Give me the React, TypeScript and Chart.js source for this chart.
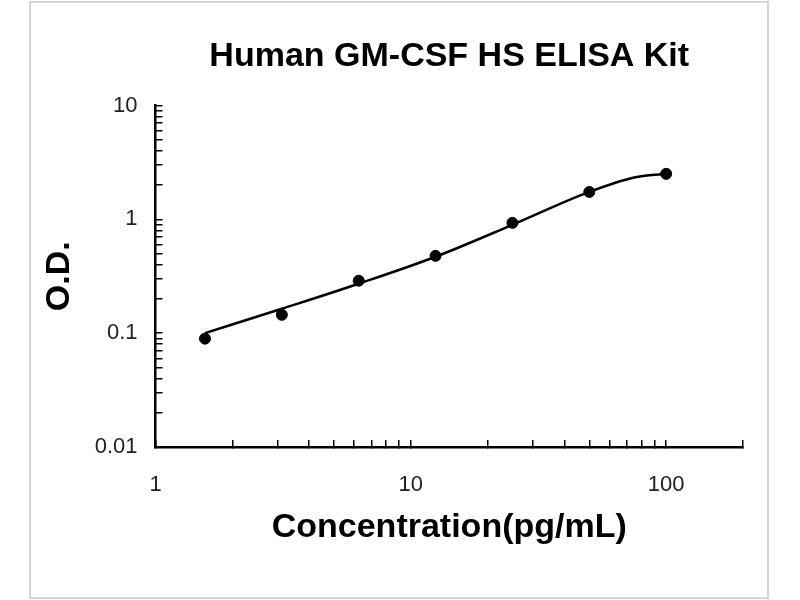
import React, { useEffect, useRef } from 'react';
import { Chart, registerables } from 'chart.js';

Chart.register(...registerables);

// Measured standard points
const concentrations = [1.5625, 3.125, 6.25, 12.5, 25, 50, 100];
const odValues = [0.0895, 0.145, 0.289, 0.478, 0.932, 1.74, 2.51];

// Points
const fitConcentrations = [1.5625, 3.125, 6.25, 12.5, 25, 50, 75, 100];
const fitOdValues = [0.1, 0.164, 0.272, 0.469, 0.895, 1.74, 2.33, 2.51];

// Axis ticks
const xTickValues = [1, 2, 3, 4, 5, 6, 7, 8, 9, 10, 20, 30, 40, 50, 60, 70, 80, 90, 100, 200];
const xTickLabels = [1, 10, 100];
const yTickValues = [
  0.01, 0.02, 0.03, 0.04, 0.05, 0.06, 0.07, 0.08, 0.09,
  0.1, 0.2, 0.3, 0.4, 0.5, 0.6, 0.7, 0.8, 0.9,
  1, 2, 3, 4, 5, 6, 7, 8, 9, 10,
];
const yTickLabels = [0.01, 0.1, 1, 10];

const chartTitle = 'Human GM-CSF HS ELISA Kit';
const xTitle = 'Concentration(pg/mL)';
const yTitle = 'O.D.';

const FONT = '"Liberation Sans", Arial, sans-serif';

const framePlugin = {
  id: 'frame',
  beforeDraw(chart: any) {
    const ctx = chart.ctx;
    ctx.save();
    ctx.fillStyle = '#ffffff';
    ctx.fillRect(0, 0, chart.width, chart.height);
    ctx.strokeStyle = '#d4d4d4';
    ctx.lineWidth = 2;
    ctx.strokeRect(30, 2, 738, 596);
    ctx.restore();
  },
};

export default function App() {
  const canvasRef = useRef<HTMLCanvasElement | null>(null);

  useEffect(() => {
    if (!canvasRef.current) return;
    const chart = new Chart(canvasRef.current, {
      type: 'scatter',
      data: {
        datasets: [
          {
            label: 'Fit',
            data: fitConcentrations.map((x, i) => ({ x, y: fitOdValues[i] })),
            showLine: true,
            borderColor: '#000',
            borderWidth: 2.5,
            pointRadius: 0,
            cubicInterpolationMode: 'monotone',
            fill: false,
            order: 2,
          } as any,
          {
            label: 'Standard',
            data: concentrations.map((x, i) => ({ x, y: odValues[i] })),
            showLine: false,
            backgroundColor: '#000',
            borderColor: '#000',
            pointRadius: 5.5,
            pointHoverRadius: 5.5,
            order: 1,
          } as any,
        ],
      },
      options: {
        responsive: false,
        animation: false,
        devicePixelRatio: 1,
        layout: { padding: { left: 0, right: 57, top: 0, bottom: 0 } },
        plugins: {
          legend: { display: false },
          tooltip: { enabled: false },
          title: {
            display: true,
            text: chartTitle,
            fullSize: false,
            color: '#000',
            font: { family: FONT, size: 34, weight: 'bold', lineHeight: 1.2 },
            padding: { top: 36, bottom: 28.7 },
          },
        },
        scales: {
          x: {
            type: 'logarithmic',
            position: 'bottom',
            min: 1,
            max: 200,
            afterBuildTicks: (scale: any) => {
              scale.ticks = xTickValues.map((v) => ({ value: v }));
            },
            afterFit: (scale: any) => {
              scale.height = 153;
            },
            grid: {
              display: true,
              drawOnChartArea: false,
              drawTicks: true,
              tickLength: -7,
              color: '#000',
              lineWidth: 1.5,
            },
            border: { display: true, color: '#000', width: 2.5 },
            ticks: {
              autoSkip: false,
              maxRotation: 0,
              minRotation: 0,
              padding: 32,
              color: '#222',
              font: { family: FONT, size: 22 },
              callback: (value: any) => (xTickLabels.includes(Number(value)) ? String(value) : ''),
            },
            title: {
              display: true,
              text: xTitle,
              color: '#000',
              font: { family: FONT, size: 34, weight: 'bold', lineHeight: 1.2 },
              padding: { top: 0, bottom: 52 },
            },
          },
          y: {
            type: 'logarithmic',
            position: 'left',
            min: 0.01,
            max: 10,
            afterBuildTicks: (scale: any) => {
              scale.ticks = yTickValues.map((v) => ({ value: v }));
            },
            afterFit: (scale: any) => {
              scale.width = 155.5;
            },
            grid: {
              display: true,
              drawOnChartArea: false,
              drawTicks: true,
              tickLength: -7,
              color: '#000',
              lineWidth: 1.5,
            },
            border: { display: true, color: '#000', width: 2.5 },
            ticks: {
              autoSkip: false,
              padding: 25,
              color: '#222',
              font: { family: FONT, size: 22 },
              callback: (value: any) => (yTickLabels.includes(Number(value)) ? String(value) : ''),
            },
            title: {
              display: true,
              text: yTitle,
              color: '#000',
              font: { family: FONT, size: 34, weight: 'bold', lineHeight: 1.2 },
              padding: { top: 39, bottom: 0 },
            },
          },
        },
      } as any,
      plugins: [framePlugin],
    });
    return () => chart.destroy();
  }, []);

  return (
    <div style={{ position: 'fixed', left: 0, top: 0, width: 800, height: 600, background: '#fff' }}>
      <canvas ref={canvasRef} width={800} height={600} style={{ display: 'block', width: 800, height: 600 }} />
    </div>
  );
}
